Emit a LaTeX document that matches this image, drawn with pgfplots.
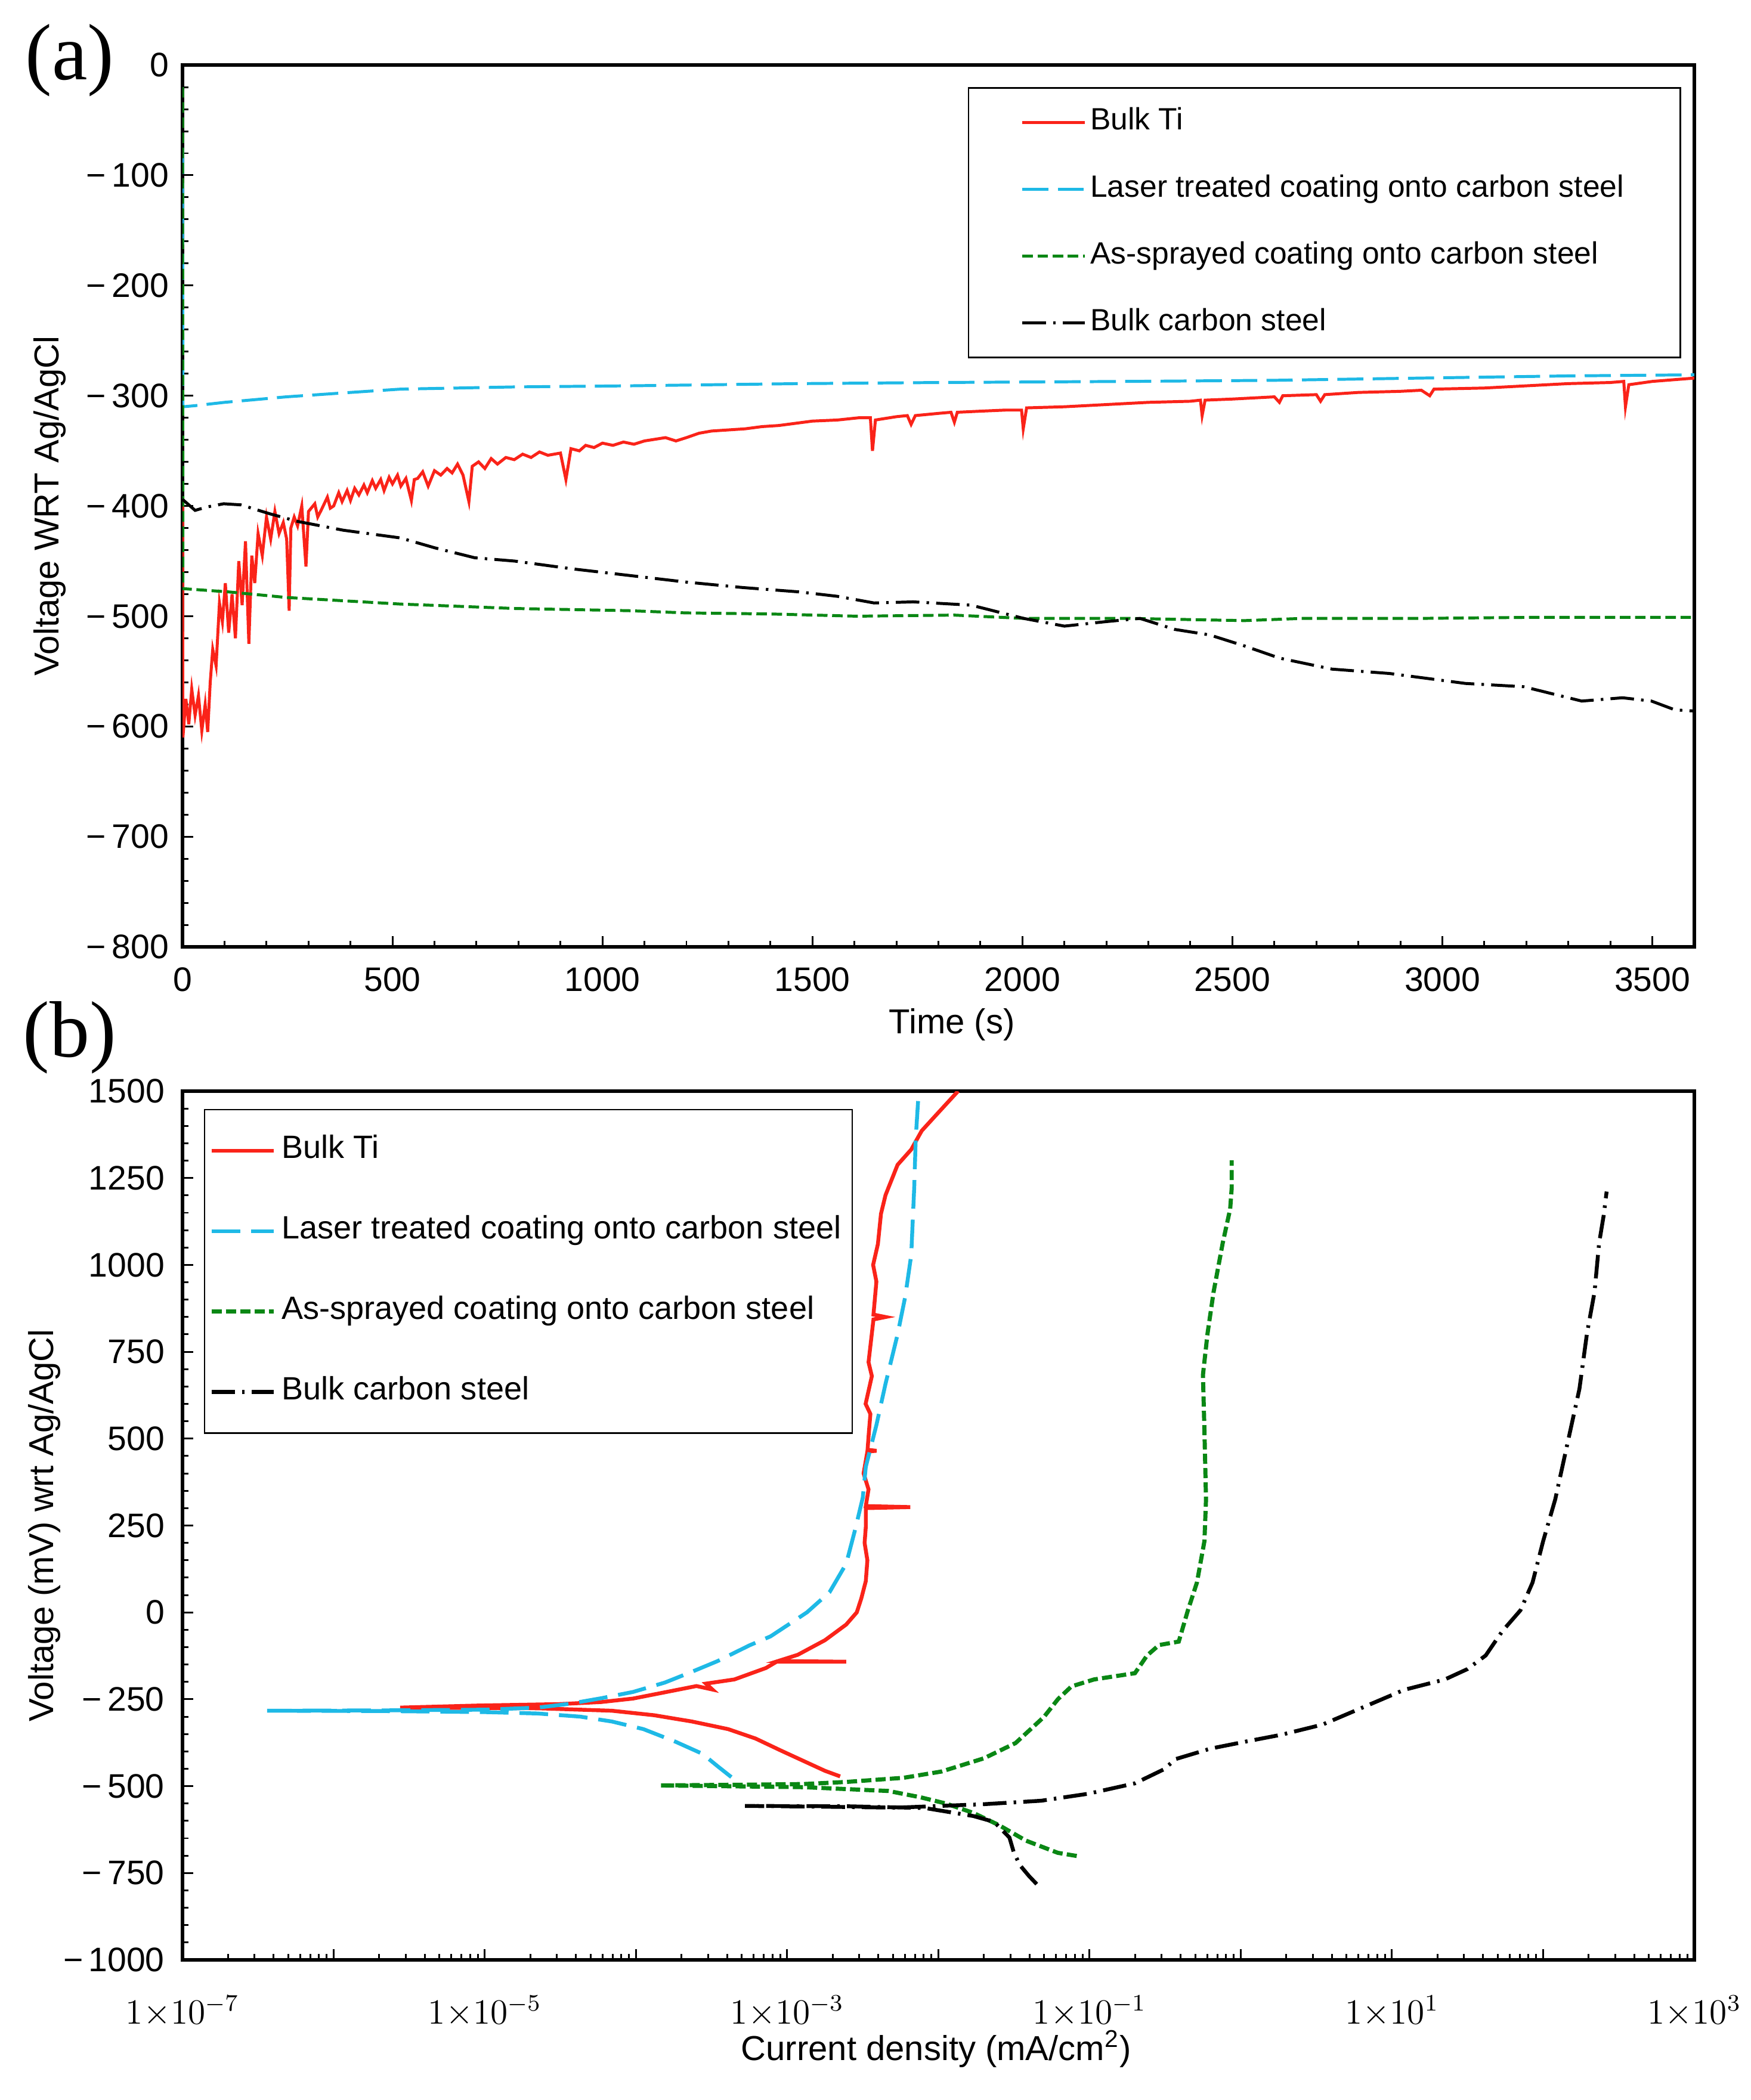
\documentclass[border=0pt]{standalone}
\usepackage{fontspec}
\setmainfont{Liberation Sans}
\newfontfamily\serifpanel{Liberation Serif}
\usepackage{pgfplots}
\pgfplotsset{compat=1.18}
\definecolor{tired}{RGB}{250,35,25}
\definecolor{lasblue}{RGB}{30,185,230}
\definecolor{asgreen}{RGB}{10,135,20}
\def\minorlist{2e-7}
\foreach \e in {-7,...,2}{\foreach \m in {2,...,9}{\xdef\minorlist{\minorlist,\m e\e}}}
\pgfplotsset{
  common/.style={
    scale only axis, anchor=south west,
    tick align=inside, tick pos=left,
    major tick length=1.3mm, minor tick length=0.7mm,
    axis line style={line width=1.3pt},
    tick style={line width=0.6pt, black},
    tick label style={font=\fontsize{11.5}{13}\selectfont},
    label style={font=\fontsize{11.7}{14}\selectfont},
    legend cell align=left,
    legend image code/.code={\draw[##1] (0mm,0mm) -- (7.4mm,0mm);},
  },
}
\begin{document}
\begin{tikzpicture}
\useasboundingbox (0,0) rectangle (20.8,24.952);
\node[font=\serifpanel\fontsize{27}{30}\selectfont] at (0.827,24.236) {(a)};
\node[font=\serifpanel\fontsize{27}{30}\selectfont] at (0.827,12.62) {(b)};
% ---------------- (a) ----------------
\begin{axis}[common,
  at={(2.168cm,13.701cm)}, width=17.959cm, height=10.478cm,
  xmin=0, xmax=3600, ymin=-800, ymax=0,
  xtick={0,500,...,3500},
  ytick={-800,-700,-600,-500,-400,-300,-200,-100,0},
  yticklabels={{−\,800},{−\,700},{−\,600},{−\,500},{−\,400},{−\,300},{−\,200},{−\,100},0},
  minor x tick num=4, minor y tick num=4,
  /pgf/number format/assume math mode=true,
  /pgf/number format/1000 sep={},
  xticklabel style={yshift=-1.2mm},
  yticklabel style={xshift=-0.4mm},
  xlabel={Time (s)}, ylabel={Voltage WRT Ag/AgCl},
  xlabel style={at={(axis description cs:0.509,-0.088)}, anchor=center},
  ylabel style={at={(axis description cs:-0.0879,0.5)}, anchor=center},
  legend style={at={(0.9913,0.975)}, anchor=north east, draw=black, line width=0.5pt,
    font=\fontsize{10.4}{12}\selectfont, inner xsep=6.2mm, inner ysep=1.9mm, row sep=3.55mm,
    nodes={inner xsep=0.5mm, inner ysep=0.5mm, text height=2.6mm, text depth=0.8mm}},
]
\addplot[tired, line width=1pt] coordinates {
(0,-395) (0.5,-560) (1,-610) (8,-575) (15,-598) (22,-566) (30,-590) (38,-572) (46,-604) (54,-580) (60,-605) (66,-560) (72,-530) (80,-545) (88,-488) (95,-505) (102,-470) (110,-515) (118,-480) (126,-520) (134,-450) (142,-490) (150,-432) (158,-525) (165,-445) (172,-470) (180,-425) (190,-445) (200,-410) (210,-430) (220,-405) (230,-425) (240,-415) (248,-430) (254,-495) (258,-420) (266,-410) (274,-418) (284,-400) (294,-455) (300,-405) (315,-398) (322,-410) (330,-404) (345,-392) (352,-402) (360,-400) (372,-388) (380,-396) (392,-386) (400,-395) (410,-384) (420,-390) (432,-381) (440,-388) (452,-377) (460,-384) (472,-376) (480,-386) (492,-374) (500,-380) (512,-372) (520,-382) (532,-375) (545,-395) (552,-376) (560,-375) (572,-369) (585,-382) (600,-368) (615,-372) (630,-366) (642,-370) (655,-362) (668,-372) (682,-396) (690,-364) (705,-360) (720,-366) (735,-357) (750,-362) (770,-356) (790,-358) (810,-353) (830,-356) (850,-351) (870,-354) (900,-352) (913,-376) (925,-348) (945,-350) (960,-345) (980,-347) (1000,-343) (1025,-345) (1050,-342) (1075,-344) (1100,-341) (1150,-338) (1175,-341) (1200,-338) (1230,-334) (1260,-332) (1300,-331) (1340,-330) (1380,-328) (1420,-327) (1460,-325) (1500,-323) (1560,-322) (1610,-320) (1638,-320) (1643,-350) (1650,-322) (1700,-319) (1726,-318) (1735,-326) (1745,-318) (1800,-316) (1830,-315) (1838,-324) (1845,-315) (1900,-314) (1960,-313) (1998,-313) (2002,-330) (2010,-311) (2100,-310) (2200,-308) (2300,-306) (2400,-305) (2424,-304) (2428,-318) (2435,-304) (2500,-303) (2600,-301) (2612,-306) (2620,-300) (2700,-299) (2710,-305) (2720,-299) (2800,-297) (2900,-296) (2950,-295) (2970,-300) (2980,-294) (3100,-293) (3200,-291) (3300,-289) (3400,-288) (3432,-287) (3436,-310) (3444,-290) (3500,-287) (3600,-284)
};
\addlegendentry{Bulk Ti}
\addplot[lasblue, line width=1pt, dash pattern=on 3.1mm off 1.1mm] coordinates {
(0,-75) (1,-310) (30,-309) (100,-306) (247,-301) (400,-297) (519,-294) (791,-292) (1063,-291) (1470,-289) (1800,-288) (2252,-287) (2600,-286) (2945,-284) (3300,-282) (3600,-281)
};
\addlegendentry{Laser treated coating onto carbon steel}
\addplot[asgreen, line width=1pt, dash pattern=on 1.25mm off 0.55mm] coordinates {
(0,-20) (1,-475) (111,-478) (247,-483) (383,-486) (519,-489) (655,-491) (791,-493) (927,-494) (1063,-495) (1198,-497) (1402,-498) (1606,-500) (1837,-499) (2003,-502) (2252,-502) (2529,-504) (2667,-502) (2945,-502) (3222,-501) (3600,-501)
};
\addlegendentry{As-sprayed coating onto carbon steel}
\addplot[black, line width=1pt, dash pattern=on 2.8mm off 0.85mm on 0.3mm off 0.85mm] coordinates {
(0,-394) (30,-404) (57,-401) (98,-398) (139,-399) (207,-407) (274,-414) (383,-422) (519,-429) (601,-438) (696,-447) (791,-450) (927,-457) (1063,-463) (1198,-469) (1334,-474) (1470,-478) (1560,-482) (1647,-488) (1740,-487) (1878,-490) (2003,-502) (2100,-509) (2197,-505) (2280,-502) (2363,-512) (2446,-517) (2529,-527) (2612,-538) (2737,-548) (2875,-552) (3055,-561) (3194,-564) (3332,-577) (3429,-574) (3498,-577) (3554,-585) (3600,-586)
};
\addlegendentry{Bulk carbon steel}
\end{axis}
% ---------------- (b) ----------------
\begin{axis}[common,
  at={(2.168cm,1.665cm)}, width=17.959cm, height=10.322cm,
  xmode=log, xmin=1e-7, xmax=1e3, ymin=-1000, ymax=1500,
  xtick={1e-7,1e-6,1e-5,1e-4,1e-3,1e-2,1e-1,1e0,1e1,1e2,1e3},
  xticklabels={$1{\times}10^{-7}$,,$1{\times}10^{-5}$,,$1{\times}10^{-3}$,,$1{\times}10^{-1}$,,$1{\times}10^{1}$,,$1{\times}10^{3}$},
  minor xtick/.expanded={\minorlist},
  ytick={-1000,-750,-500,-250,0,250,500,750,1000,1250,1500},
  yticklabels={{−\,1000},{−\,750},{−\,500},{−\,250},0,250,500,750,1000,1250,1500},
  minor y tick num=4,
  xticklabel style={yshift=-3.0mm, font=\fontsize{11.5}{14}\selectfont},
  yticklabel style={xshift=-0.9mm},
  xlabel={Current density (mA/cm\textsuperscript{2})}, ylabel={Voltage (mV) wrt Ag/AgCl},
  xlabel style={at={(axis description cs:0.4985,-0.1025)}, anchor=center},
  ylabel style={at={(axis description cs:-0.0915,0.5)}, anchor=center},
  legend style={at={(0.014,0.9797)}, anchor=north west, draw=black, line width=0.5pt,
    font=\fontsize{10.9}{12.5}\selectfont, inner xsep=0.6mm, inner ysep=2.6mm, row sep=4.95mm,
    nodes={inner xsep=0.7mm, inner ysep=0.5mm, text height=2.7mm, text depth=0.9mm}},
]
\addplot[tired, line width=1.3pt] coordinates {
(2.239e-3,-472) (1.778e-3,-456) (1.380e-3,-434) (9.12e-4,-398) (6.17e-4,-363) (4.07e-4,-336) (2.34e-4,-314) (1.318e-4,-296) (6.92e-5,-283) (2.24e-5,-276) (6.31e-6,-275) (2.75e-6,-274)
(9.12e-6,-268) (3.09e-5,-264) (5.89e-5,-258) (9.55e-5,-248) (1.55e-4,-230) (2.51e-4,-212) (3.2e-4,-222) (2.9e-4,-205) (4.47e-4,-193) (7.24e-4,-160) (8.51e-4,-142) (2.455e-3,-142) (8.7e-4,-140) (1.175e-3,-122) (1.778e-3,-80) (2.455e-3,-35) (2.884e-3,0) (3.09e-3,40) (3.31e-3,90) (3.39e-3,150) (3.25e-3,200) (3.31e-3,246) (3.31e-3,300) (6.52e-3,303) (3.31e-3,306) (3.45e-3,354) (3.2e-3,400) (3.39e-3,463) (3.9e-3,465) (3.4e-3,468) (3.47e-3,520) (3.55e-3,571) (3.3e-3,600) (3.63e-3,680) (3.45e-3,720) (3.72e-3,843) (4.47e-3,850) (3.72e-3,857) (3.89e-3,952) (3.7e-3,1000) (3.98e-3,1060) (4.17e-3,1147) (4.47e-3,1201) (5.37e-3,1288) (6.61e-3,1332) (7.76e-3,1386) (9.55e-3,1429) (1.349e-2,1500)
};
\addlegendentry{Bulk Ti}
\addplot[lasblue, line width=1.3pt, dash pattern=on 3.4mm off 1.3mm] coordinates {
(4.27e-4,-474) (3.47e-4,-443) (2.75e-4,-407) (1.82e-4,-372) (1.12e-4,-336) (6.92e-5,-314) (4.27e-5,-300) (2.24e-5,-291) (1e-5,-287) (2.14e-6,-284) (3.63e-7,-283)
(2.14e-6,-282) (1e-5,-280) (2.24e-5,-274) (3.63e-5,-263) (5.89e-5,-247) (9.55e-5,-229) (1.55e-4,-202) (2.34e-4,-171) (3.47e-4,-140) (5.62e-4,-95) (7.76e-4,-69) (1.35e-3,0) (1.905e-3,58) (2.455e-3,140) (2.82e-3,240) (3.16e-3,330) (3.31e-3,419) (3.89e-3,539) (4.47e-3,658) (5.37e-3,800) (6.03e-3,908) (6.61e-3,1028) (6.92e-3,1223) (7.08e-3,1364) (7.41e-3,1500)
};
\addlegendentry{Laser treated coating onto carbon steel}
\addplot[asgreen, line width=1.4pt, dash pattern=on 1.2mm off 0.5mm] coordinates {
(8.22e-2,-701) (6.17e-2,-692) (3.80e-2,-657) (2.51e-2,-612) (1.70e-2,-577) (1.12e-2,-550) (7.59e-3,-532) (4.68e-3,-514) (1.29e-3,-503) (1.45e-4,-498)
(5.01e-4,-496) (1.29e-3,-494) (2.455e-3,-488) (5.89e-3,-476) (1.047e-2,-458) (2.0e-2,-420) (3.24e-2,-376) (4.47e-2,-320) (5.01e-2,-300) (6.17e-2,-250) (7.59e-2,-213) (0.107,-193) (0.1995,-175) (0.24,-124) (0.288,-94) (0.389,-84) (0.447,6) (0.513,86) (0.575,205) (0.589,325) (0.575,524) (0.562,683) (0.603,803) (0.661,922) (0.759,1062) (0.851,1161) (0.871,1221) (0.871,1301)
};
\addlegendentry{As-sprayed coating onto carbon steel}
\addplot[black, line width=1.3pt, dash pattern=on 2.8mm off 0.85mm on 0.3mm off 0.85mm] coordinates {
(4.47e-2,-782) (3.98e-2,-759) (3.47e-2,-728) (3.16e-2,-692) (2.95e-2,-648) (2.34e-2,-603) (1.70e-2,-586) (8.13e-3,-563) (2.51e-3,-558) (5.25e-4,-557)
(1.585e-3,-559) (5.25e-3,-562) (2.0e-2,-552) (4.79e-2,-542) (9.77e-2,-522) (0.1995,-492) (0.309,-452) (0.372,-422) (0.631,-392) (1.072,-372) (1.862,-352) (3.467,-323) (6.457,-273) (12.02,-223) (22.39,-193) (31.62,-163) (41.69,-124) (53.70,-54) (70.79,6) (85.11,86) (100,205) (120.2,325) (144.5,484) (173.8,643) (195.0,803) (218.8,922) (234.4,1062) (251.2,1141) (263.0,1211)
};
\addlegendentry{Bulk carbon steel}
\end{axis}
\end{tikzpicture}
\end{document}
